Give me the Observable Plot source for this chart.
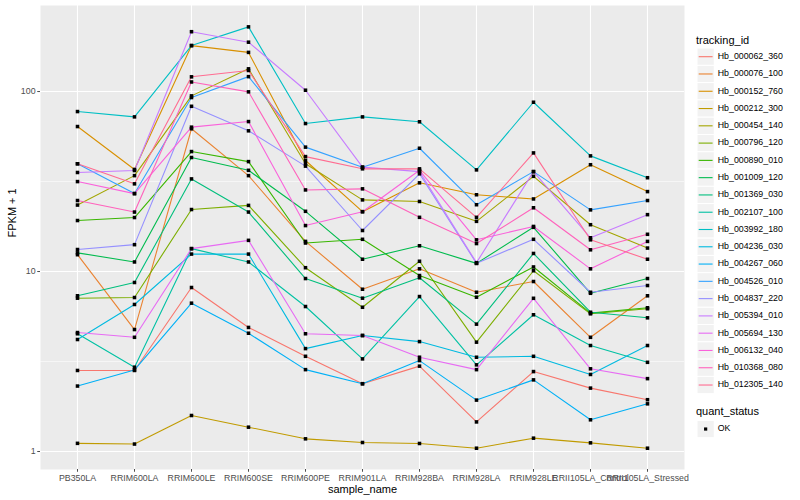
<!DOCTYPE html>
<html>
<head>
<meta charset="utf-8">
<script src="https://cdn.jsdelivr.net/npm/d3@7"></script>
<script src="https://cdn.jsdelivr.net/npm/@observablehq/plot@0.6"></script>
<style>
  body { margin: 0; background: white; }
  #wrap { position: relative; width: 800px; height: 500px; font-family: 'Liberation Sans', Arial, sans-serif; }
</style>
</head>
<body>
<div id="wrap"></div>
<script>
const samples = ["PB350LA","RRIM600LA","RRIM600LE","RRIM600SE","RRIM600PE","RRIM901LA","RRIM928BA","RRIM928LA","RRIM928LE","RRII105LA_Control","RRII105LA_Stressed"];

const trackingIds = ["Hb_000062_360","Hb_000076_100","Hb_000152_760","Hb_000212_300","Hb_000454_140","Hb_000796_120","Hb_000890_010","Hb_001009_120","Hb_001369_030","Hb_002107_100","Hb_003992_180","Hb_004236_030","Hb_004267_060","Hb_004526_010","Hb_004837_220","Hb_005394_010","Hb_005694_130","Hb_006132_040","Hb_010368_080","Hb_012305_140"];

const hb_000062_360 = [2.82, 2.82, 8.15, 4.89, 3.38, 2.38, 2.98, 1.46, 2.78, 2.25, 1.94];
const hb_000076_100 = [12.4, 4.76, 62.1, 34.1, 14.7, 7.97, 10.35, 7.67, 8.8, 4.31, 7.33];
const hb_000152_760 = [63.9, 36.9, 180, 165, 41.4, 21.5, 31.1, 26.7, 25.3, 39.2, 27.8];
const hb_000212_300 = [1.11, 1.10, 1.585, 1.365, 1.176, 1.122, 1.108, 1.043, 1.186, 1.117, 1.043];
const hb_000454_140 = [23.4, 34.1, 94.6, 133.7, 39.7, 25.0, 24.5, 19.0, 33.8, 18.2, 13.5];
const hb_000796_120 = [7.11, 7.17, 22.1, 23.3, 10.5, 6.33, 11.4, 4.05, 10.1, 5.82, 6.21];
const hb_000890_010 = [19.2, 19.95, 46.4, 40.8, 14.4, 15.1, 9.5, 7.2, 10.6, 5.87, 6.29];
const hb_001009_120 = [12.7, 11.3, 43.0, 36.5, 21.6, 11.7, 13.9, 11.1, 17.6, 7.57, 9.14];
const hb_001369_030 = [7.33, 8.69, 32.7, 21.4, 9.14, 7.11, 9.23, 5.1, 12.6, 5.94, 5.53];
const hb_002107_100 = [4.51, 2.94, 13.4, 11.3, 6.39, 3.27, 7.26, 3.03, 5.75, 3.88, 3.13];
const hb_003992_180 = [77.4, 72.3, 180, 228.7, 66.4, 72.3, 67.9, 36.7, 87.2, 43.9, 33.2];
const hb_004236_030 = [4.19, 6.56, 12.5, 12.5, 3.73, 4.41, 4.08, 3.34, 3.38, 2.68, 3.88];
const hb_004267_060 = [2.31, 2.84, 6.67, 4.54, 2.85, 2.38, 3.2, 1.93, 2.5, 1.5, 1.84];
const hb_004526_010 = [39.7, 27.1, 92.6, 121, 49.1, 38.0, 48.4, 23.5, 35.9, 22.0, 24.8];
const hb_004837_220 = [13.25, 14.1, 82.8, 60.5, 38.5, 16.9, 34.9, 11.1, 15.1, 7.67, 8.36];
const hb_005394_010 = [35.5, 36.4, 215, 188, 101.7, 38.0, 35.9, 11.2, 35.9, 15.4, 20.7];
const hb_005694_130 = [4.58, 4.31, 13.4, 14.9, 4.51, 4.41, 3.34, 2.85, 7.1, 2.88, 2.54];
const hb_006132_040 = [31.6, 27.1, 63.4, 68.1, 18.0, 21.5, 36.5, 15.0, 17.8, 10.35, 14.7];
const hb_010368_080 = [24.8, 21.4, 113, 99.6, 28.4, 28.8, 20.0, 14.3, 22.6, 13.2, 16.1];
const hb_012305_140 = [39.7, 30.7, 120.7, 130.9, 43.5, 37.2, 37.2, 20.0, 45.6, 15.0, 11.7];

const seriesValues = [hb_000062_360, hb_000076_100, hb_000152_760, hb_000212_300, hb_000454_140, hb_000796_120, hb_000890_010, hb_001009_120, hb_001369_030, hb_002107_100, hb_003992_180, hb_004236_030, hb_004267_060, hb_004526_010, hb_004837_220, hb_005394_010, hb_005694_130, hb_006132_040, hb_010368_080, hb_012305_140];

const yTicks = [1, 10, 100];
const yMinorGrid = [Math.sqrt(10), Math.sqrt(1000)];
const quantStatus = ["OK"];

const palette = ["#F8766D","#EA8331","#D89000","#C09B00","#A3A500","#7CAE00","#39B600","#00BB4E","#00BF7D","#00C1A3","#00BFC4","#00BAE0","#00B0F6","#35A2FF","#9590FF","#C77CFF","#E76BF3","#FA62DB","#FF62BC","#FF6C91"];

const data = trackingIds.flatMap((id, i) => seriesValues[i].map((v, j) => ({id, sample: samples[j], value: v, status: "OK"})));

const chart = Plot.plot({
  width: 800, height: 500,
  marginLeft: 40, marginRight: 116, marginTop: 5, marginBottom: 31,
  style: {fontFamily: "'Liberation Sans', Arial, sans-serif", background: "white"},
  x: {type: "point", domain: samples, padding: 0.6, label: null},
  y: {type: "log", domain: [Math.pow(10, -0.1), Math.pow(10, 2.478)], label: null},
  color: {domain: trackingIds, range: palette},
  marks: [
    Plot.frame({fill: "#EBEBEB"}),
    Plot.gridY({ticks: yMinorGrid, stroke: "white", strokeOpacity: 1, strokeWidth: 0.55}),
    Plot.gridY({ticks: yTicks, stroke: "white", strokeOpacity: 1, strokeWidth: 1.1}),
    Plot.gridX({stroke: "white", strokeOpacity: 1, strokeWidth: 1.1}),
    Plot.axisY({ticks: yTicks, tickFormat: d => String(d), tickSize: 2.75, tickPadding: 2.2, fontSize: 8.8, color: "#4D4D4D", label: null}),
    Plot.axisX({tickSize: 2.75, tickPadding: 2.2, fontSize: 8.8, color: "#4D4D4D", label: null}),
    Plot.line(data, {x: "sample", y: "value", z: "id", stroke: "id", strokeWidth: 1.1}),
    Plot.dot(data, {x: "sample", y: "value", symbol: "square", r: 2, fill: "black", stroke: null}),
    Plot.text(["FPKM + 1"], {frameAnchor: "left", dx: -28, rotate: -90, fontSize: 11, fill: "black", text: d => d}),
    Plot.text(["sample_name"], {frameAnchor: "bottom", dy: 23, fontSize: 11, fill: "black", text: d => d})
  ]
});

const wrap = document.getElementById("wrap");
wrap.appendChild(chart);

// Legend (ggplot-style) placed in the right margin
const lg = d3.create("svg")
  .attr("width", 116).attr("height", 500)
  .style("position", "absolute").style("left", "684px").style("top", "0px")
  .style("font-family", "'Liberation Sans', Arial, sans-serif");

const keySize = 17.28, keyX = 13, top0 = 48.06;
lg.append("text").attr("x", 12).attr("y", 40.7).attr("dominant-baseline", "middle")
  .attr("font-size", 11).attr("fill", "black").text("tracking_id");
trackingIds.forEach((id, i) => {
  const y0 = top0 + i * keySize;
  const g = lg.append("g");
  g.append("rect").attr("x", keyX).attr("y", y0).attr("width", keySize).attr("height", keySize)
    .attr("fill", "#F2F2F2").attr("stroke", "white").attr("stroke-width", 1);
  g.append("line").attr("x1", keyX + 1.7).attr("x2", keyX + keySize - 1.7)
    .attr("y1", y0 + keySize / 2).attr("y2", y0 + keySize / 2)
    .attr("stroke", palette[i]).attr("stroke-width", 1.1);
  g.append("text").attr("x", keyX + keySize + 3.5).attr("y", y0 + keySize / 2)
    .attr("dominant-baseline", "middle").attr("font-size", 8.8).attr("fill", "black").text(id);
});
lg.append("text").attr("x", 12).attr("y", 412.3).attr("dominant-baseline", "middle")
  .attr("font-size", 11).attr("fill", "black").text("quant_status");
quantStatus.forEach((s, i) => {
  const y0 = 420.4 + i * keySize;
  lg.append("rect").attr("x", keyX).attr("y", y0).attr("width", keySize).attr("height", keySize)
    .attr("fill", "#F2F2F2").attr("stroke", "white");
  lg.append("rect").attr("x", keyX + keySize / 2 - 1.6).attr("y", y0 + keySize / 2 - 1.6)
    .attr("width", 3.2).attr("height", 3.2).attr("fill", "black");
  lg.append("text").attr("x", keyX + keySize + 3.5).attr("y", y0 + keySize / 2)
    .attr("dominant-baseline", "middle").attr("font-size", 8.8).attr("fill", "black").text(s);
});
wrap.appendChild(lg.node());
</script>
</body>
</html>
